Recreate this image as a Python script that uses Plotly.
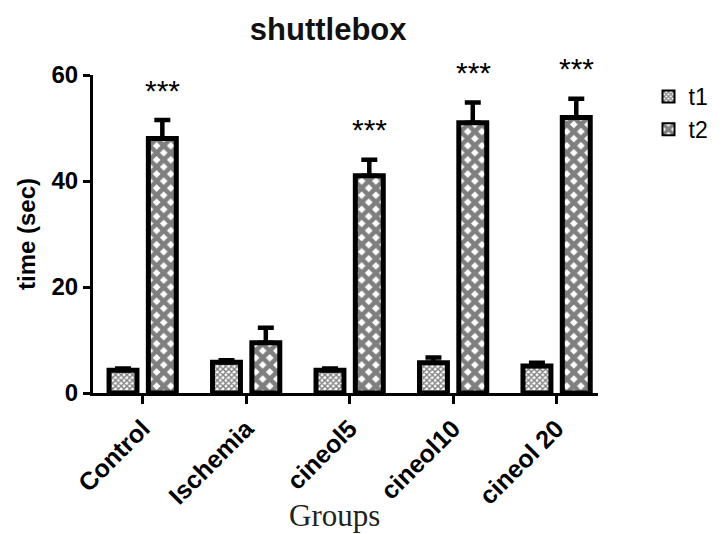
import plotly.graph_objects as go

groups = ["Control", "Ischemia", "cineol5", "cineol10", "cineol 20"]
t1_mean = [4.3, 5.8, 4.3, 5.7, 5.1]
t1_err = [0.3, 0.4, 0.3, 1.0, 0.6]
t2_mean = [48.0, 9.5, 41.0, 51.0, 52.0]
t2_err = [3.5, 2.8, 3.0, 3.8, 3.5]
stars = ["***", "", "***", "***", "***"]

SANS = "Liberation Sans, Arial, sans-serif"
fig = go.Figure()
fig.add_trace(go.Bar(
    name="t1", x=groups, y=t1_mean, width=0.27, offset=-0.325,
    marker=dict(color="white", line=dict(color="black", width=5),
                pattern=dict(shape="x", size=4, solidity=0.6, fgcolor="black", bgcolor="white")),
    error_y=dict(type="data", array=t1_err, arrayminus=[0]*5, symmetric=False,
                 color="black", thickness=4.5, width=8),
))
fig.add_trace(go.Bar(
    name="t2", x=groups, y=t2_mean, width=0.27, offset=0.055,
    marker=dict(color="white", line=dict(color="black", width=5),
                pattern=dict(shape="x", size=10, solidity=0.7, fgcolor="black", bgcolor="white")),
    error_y=dict(type="data", array=t2_err, arrayminus=[0]*5, symmetric=False,
                 color="black", thickness=4.5, width=8),
))

for g, m, e, s in zip(groups, t2_mean, t2_err, stars):
    if s:
        fig.add_annotation(x=g, y=m + e, xshift=20, yshift=30, text=s, showarrow=False,
                           yanchor="middle", font=dict(family=SANS, size=30, color="black"))

fig.add_annotation(text="Groups", xref="paper", yref="paper", x=0.478, y=-0.384,
                   showarrow=False, yanchor="middle",
                   font=dict(family="Liberation Serif, Times New Roman, serif", size=31, color="#222"))

fig.update_layout(
    width=726, height=534,
    margin=dict(l=93, r=126, t=75, b=141),
    plot_bgcolor="white", paper_bgcolor="white",
    showlegend=True,
    title=dict(text="<b>shuttlebox</b>", x=0.452, xref="container", xanchor="center",
               y=0.945, yref="container", yanchor="middle",
               font=dict(family=SANS, size=31, color="#111")),
    legend=dict(x=1.1, y=1.0, xanchor="left", yanchor="top",
                font=dict(family=SANS, size=23, color="black"),
                itemsizing="constant", tracegroupgap=4),
    barmode="group",
)
fig.update_xaxes(
    type="category", range=[-0.48, 4.4], showline=True, linecolor="black", linewidth=3,
    ticks="outside", ticklen=8, tickwidth=3, tickcolor="black", tickangle=-45,
    tickfont=dict(family=SANS, size=25, color="black", weight="bold"),
    showgrid=False, zeroline=False, automargin=False,
)
fig.update_yaxes(
    range=[0, 60], tickvals=[0, 20, 40, 60], showline=True, linecolor="black", linewidth=3,
    ticks="outside", ticklen=7, tickwidth=3, tickcolor="black",
    tickfont=dict(family=SANS, size=24, color="black", weight="bold"),
    title=dict(text="<b>time (sec)</b>", standoff=10,
               font=dict(family=SANS, size=24, color="black")),
    showgrid=False, zeroline=False, automargin=False,
)

fig.write_html("out.html", config={"displayModeBar": False},
               post_script="document.body.style.margin='0';")
